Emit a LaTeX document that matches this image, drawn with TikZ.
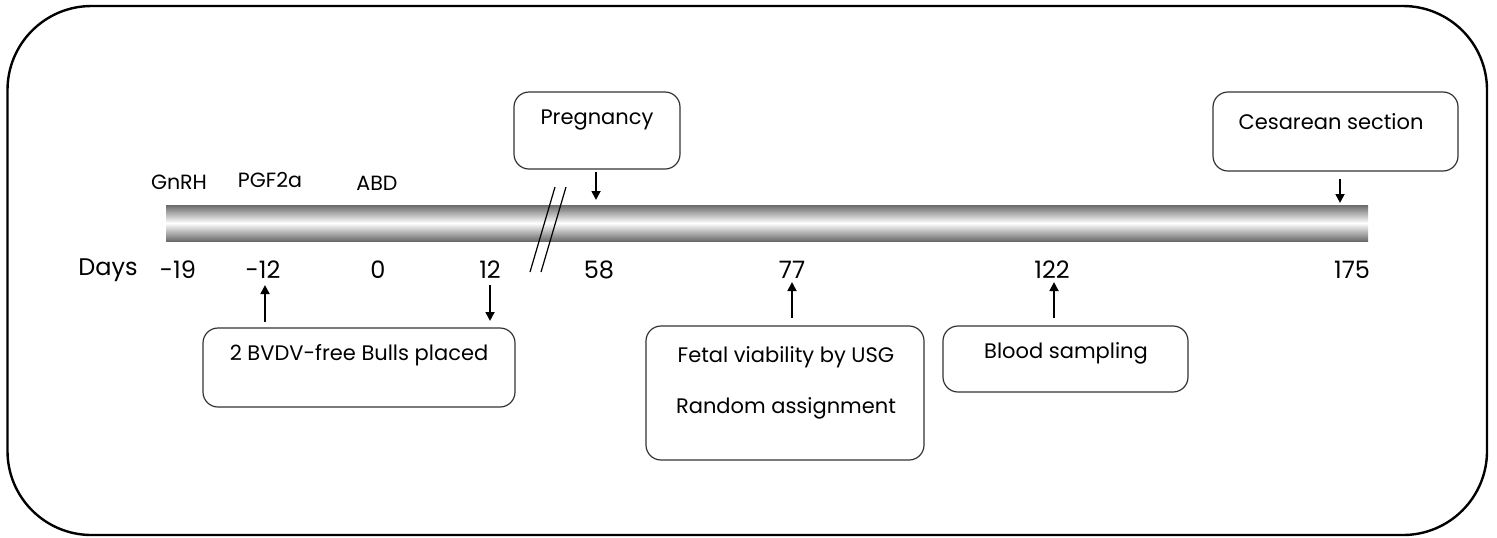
\documentclass[tikz,border=0pt]{standalone}
\usepackage{fontspec}
\setmainfont{Poppins}
\usetikzlibrary{arrows.meta}
\definecolor{bargray}{gray}{0.42}
\tikzset{
  px/.style={x=0.5pt,y=-0.5pt},
  box/.style={draw=black!80,line width=0.6pt,rounded corners=7.5pt,inner sep=0pt},
  lbl/.style={inner sep=0pt,font=\fontsize{10.5}{12}\selectfont},
  top/.style={inner sep=0pt,font=\fontsize{10.3}{12}\selectfont},
  day/.style={inner sep=0pt,font=\fontsize{12}{14}\selectfont},
  arr/.style={line width=1.2pt,-{Triangle[width=4.4pt,length=4.5pt]}},
  brk/.style={line width=0.6pt}
}
\begin{document}
\begin{tikzpicture}[px]
\useasboundingbox (0,0) rectangle (1497,537);
% outer frame
\draw[line width=1.2pt,rounded corners=42pt] (7.5,6) rectangle (1487,535);
% bar
\shade[top color=bargray,bottom color=bargray,middle color=white] (166,205) rectangle (1368,241);
% break marks
\draw[brk] (555,187) -- (530,272);
\draw[brk] (566,187) -- (541,272);
% top labels
\node[top] (gnrh) at (179,182) {GnRH};
\node[top] (pgf) at (270,180) {PGF2a};
\node[top] (abd) at (377,183) {ABD};
% days
\node[day] (days) at (108,270) {Days};
\node[day] (dm19) at (178,270) {-19};
\node[day] (dm12) at (263,270) {-12};
\node[day] (d0) at (378,270) {0};
\node[day] (d12) at (490,270) {12};
\node[day] (d58) at (599,270) {58};
\node[day] (d77) at (792,270) {77};
\node[day] (d122) at (1052,270) {122};
\node[day] (d175) at (1352,270) {175};
% boxes
\node[box,minimum width=156pt,minimum height=39.5pt] (bulls) at (359,367.5) {};
\node[lbl] (bullst) at (359,355) {2 BVDV-free Bulls placed};
\node[box,minimum width=83pt,minimum height=38.5pt] (preg) at (597,130.5) {};
\node[lbl] (pregt) at (597,120) {Pregnancy};
\node[box,minimum width=122.5pt,minimum height=39.5pt] (ces) at (1335.5,131.5) {};
\node[lbl] (cest) at (1331,122) {Cesarean section};
\node[box,minimum width=139pt,minimum height=67pt] (fetal) at (785,393) {};
\node[lbl] (fetalt1) at (786,357) {Fetal viability by USG};
\node[lbl] (fetalt2) at (786,408) {Random assignment};
\node[box,minimum width=122.5pt,minimum height=33pt] (blood) at (1065.5,359) {};
\node[lbl] (bloodt) at (1066,353) {Blood sampling};
% arrow end coordinates
\coordinate (a1s) at (265,322); \coordinate (a1e) at (265,285);
\coordinate (a2s) at (490,285); \coordinate (a2e) at (490,321);
\coordinate (a3s) at (596,172); \coordinate (a3e) at (596,200);
\coordinate (a4s) at (792,318); \coordinate (a4e) at (792,282);
\coordinate (a5s) at (1054,318); \coordinate (a5e) at (1054,282);
\coordinate (a6s) at (1340,179); \coordinate (a6e) at (1340,203);
\draw[arr] (a1s) -- (a1e);
\draw[arr] (a2s) -- (a2e);
\draw[arr] (a3s) -- (a3e);
\draw[arr] (a4s) -- (a4e);
\draw[arr] (a5s) -- (a5e);
\draw[arr] (a6s) -- (a6e);
\end{tikzpicture}
\end{document}
